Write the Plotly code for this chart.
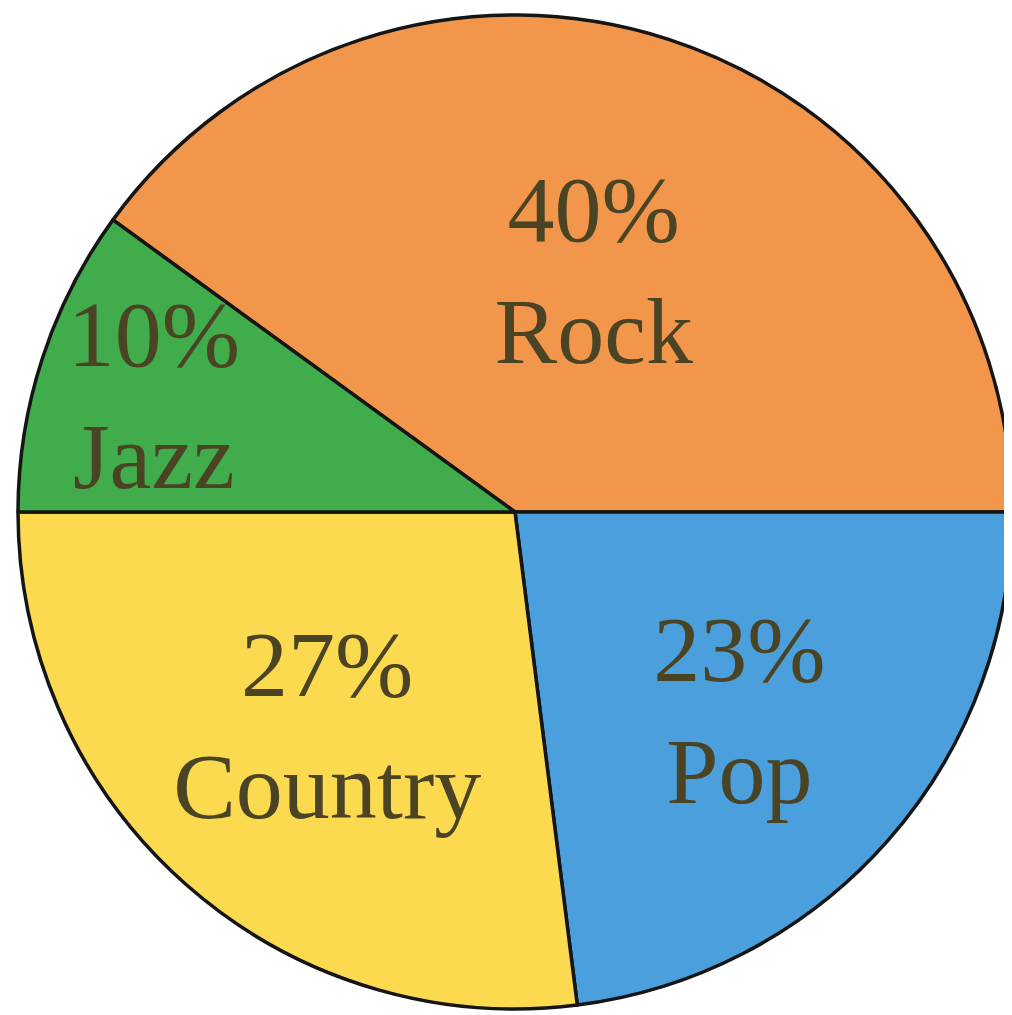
import plotly.graph_objects as go

genres = ["Rock", "Pop", "Country", "Jazz"]
shares = [40, 23, 27, 10]
colors = ["#F2964B", "#4A9FDC", "#FBDA50", "#40AC4B"]

labels_text = [f"{s}%<br>{g}" for s, g in zip(shares, genres)]

fig = go.Figure(go.Pie(
    labels=genres,
    values=shares,
    text=labels_text,
    textinfo="text",
    textposition="inside",
    insidetextorientation="horizontal",
    sort=False,
    direction="clockwise",
    rotation=306,
    marker=dict(colors=colors, line=dict(color="#151515", width=3.5)),
    textfont=dict(family="Liberation Serif", size=94, color="#4B4424"),
    showlegend=False,
    hoverinfo="label+percent",
))

fig.update_layout(
    width=1004, height=1007,
    margin=dict(l=10, r=0, t=7, b=6),
    paper_bgcolor="white",
    uniformtext=dict(minsize=94, mode="show"),
)

fig.write_html("out.html")
